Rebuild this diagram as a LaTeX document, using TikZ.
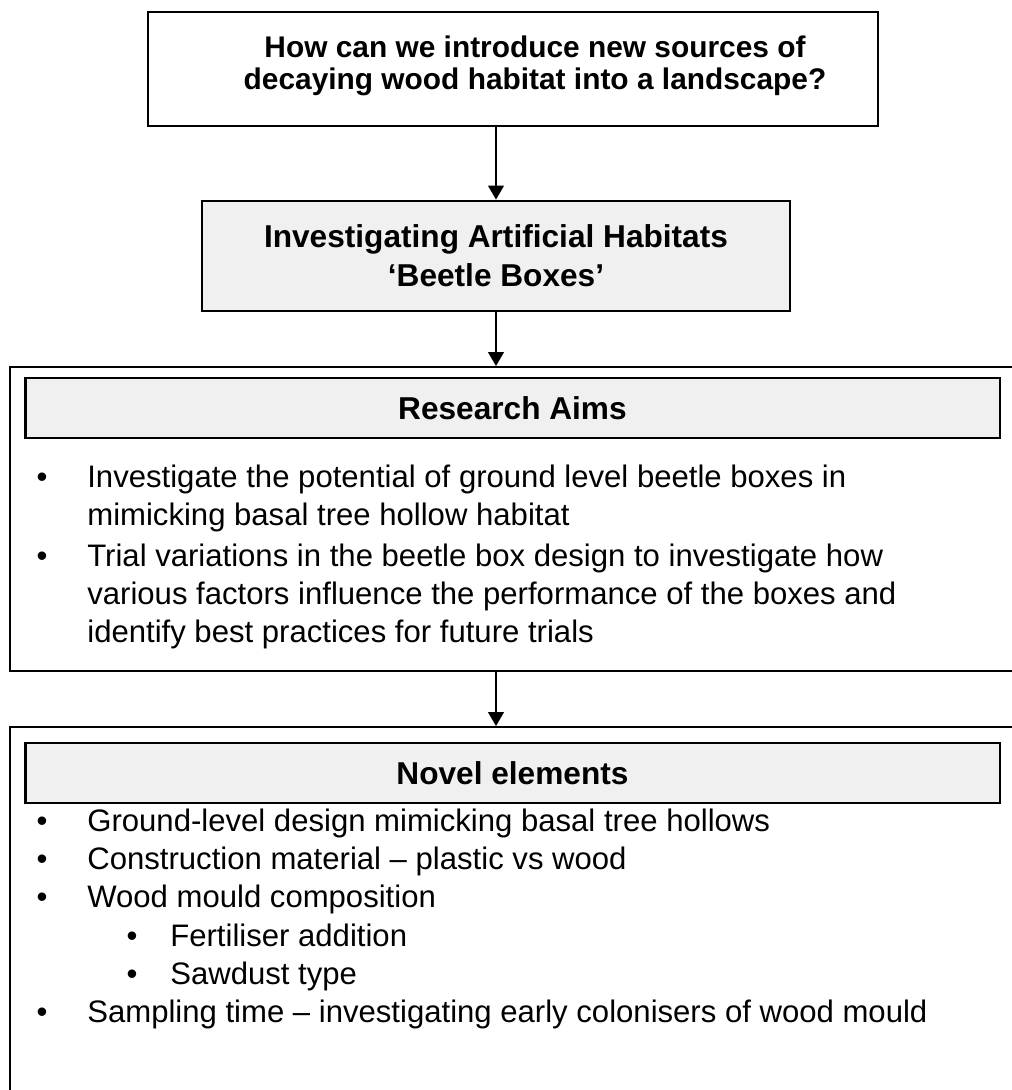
\documentclass[tikz,border=0pt]{standalone}
\usepackage{fontspec}
\setmainfont{Liberation Sans}
\usetikzlibrary{arrows.meta}
\definecolor{boxgray}{HTML}{F0F0F0}
\newcommand{\bodyfont}{\fontsize{17.7}{21.6}\selectfont}
\newcommand{\questfont}{\fontsize{17}{18.5}\selectfont\bfseries}
\newcommand{\headfont}{\fontsize{18}{22}\selectfont\bfseries}

\begin{document}
\begin{tikzpicture}[x=0.02cm, y=-0.02cm, >={Triangle[width=9pt,length=8pt]},
    frame/.style={draw, line width=1.1pt},
    greybox/.style={draw, fill=boxgray, line width=1.6pt, align=center, font=\headfont},
    bodyline/.style={anchor=base west, inner sep=0pt, font=\bodyfont},
    dot/.style={anchor=base, inner sep=0pt, font=\bodyfont}]
    \clip (0,0) rectangle (1012,1090);

    % question and beetle boxes
    \node[frame, minimum width=14.6cm, minimum height=2.28cm] (quest) at (513,69) {};
    \node[align=center, font=\questfont] (questtext) at (535,66)
        {How can we introduce new sources of\\decaying wood habitat into a landscape?};
    \node[greybox, minimum width=11.76cm, minimum height=2.2cm] (boxes) at (496,256)
        {Investigating Artificial Habitats\\‘Beetle Boxes’};

    % outer frames (run off the right edge)
    \node[frame, minimum width=20.4cm, minimum height=6.08cm] (aims) at (520,519) {};
    \node[frame, minimum width=20.4cm, minimum height=7.86cm] (novel) at (520,923.5) {};
    \node[greybox, minimum width=19.5cm, minimum height=1.2cm] (aimshead) at (512.5,408) {Research Aims};
    \node[greybox, minimum width=19.5cm, minimum height=1.2cm] (novelhead) at (512.5,773) {Novel elements};

    \draw[->, line width=1pt] (quest.south -| boxes.north) -- (boxes.north);
    \draw[->, line width=1pt] (boxes.south) -- (boxes.south |- aims.north);
    \draw[->, line width=1pt] (boxes.south |- aims.south) -- (boxes.south |- novel.north);

    % research aims
    \foreach \y [count=\i] in {487,566}
        \node[dot] (aimdot\i) at (42,\y) {\textbullet};
    \foreach \y/\t [count=\i] in {487/Investigate the potential of ground level beetle boxes in,
                                  525/mimicking basal tree hollow habitat,
                                  566/Trial variations in the beetle box design to investigate how,
                                  604/various factors influence the performance of the boxes and,
                                  642/identify best practices for future trials}
        \node[bodyline] (aimline\i) at (87,\y) {\t};

    % novel elements
    \foreach \x/\y [count=\i] in {42/831,42/869,42/907,132/946,132/984,42/1022}
        \node[dot] (noveldot\i) at (\x,\y) {\textbullet};
    \foreach \x/\y/\t [count=\i] in {87/831/Ground-level design mimicking basal tree hollows,
                                     87/869/Construction material – plastic vs wood,
                                     87/907/Wood mould composition,
                                     170/946/Fertiliser addition,
                                     170/984/Sawdust type,
                                     87/1022/Sampling time – investigating early colonisers of wood mould}
        \node[bodyline] (novelline\i) at (\x,\y) {\t};
\end{tikzpicture}
\end{document}
